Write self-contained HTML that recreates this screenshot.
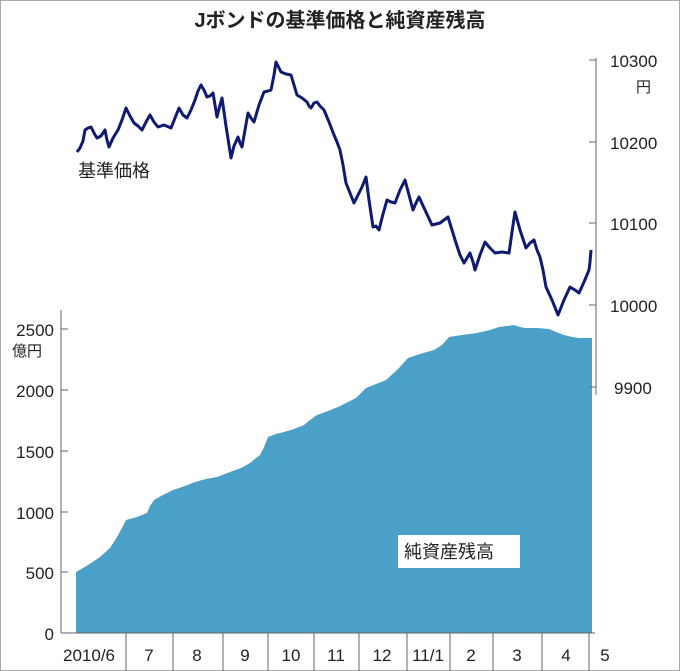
<!DOCTYPE html>
<html><head><meta charset="utf-8"><style>
html,body{margin:0;padding:0;background:#fff}
svg{display:block}
text{font-family:"Liberation Sans","Noto Sans CJK JP",sans-serif;fill:#222}
</style></head><body>
<svg width="680" height="671" viewBox="0 0 680 671" xmlns="http://www.w3.org/2000/svg">
<rect x="0.5" y="0.5" width="679" height="670" fill="#fff" stroke="#aaa"/>
<text x="340" y="27" font-size="20" font-weight="bold" text-anchor="middle">Jボンドの基準価格と純資産残高</text>
<polygon fill="#4aa0c7" points="76,633 76,572 88,565 100,557 110,548 117,537 122,528 126,520 137,517 147,513 150,506 154,500 163,495 173,490 185,486 195,482 206,479 217,477 230,472 241,468 250,463 260,455 264,447 268,437 276,434 284,432 294,429 304,425 310,420 317,415 328,411 338,407 348,402 356,398 362,392 366,388 376,384 386,380 398,369 408,358 420,354 434,350 442,345 449,337 462,335 477,333 490,330 499,327 507,326 514,325 520,327 525,328 537,328 549,329 556,332 564,335 572,337 579,338 592,338 592,633"/>
<polyline fill="none" stroke="#0f1a70" stroke-width="3" stroke-linejoin="round" points="77,152 80,148 83,141 85,130 88,128 91,127 94,133 97,138 101,136 105,130 107,140 109,147 113,138 118,130 122,120 126,108 130,116 134,123 138,126 142,130 146,122 150,115 154,122 158,127 164,125 171,128 175,118 179,108 183,115 187,118 191,110 195,100 198,91 201,85 204,90 207,97 210,96 213,93 215,105 217,117 220,105 222,98 226,126 231,158 234,146 238,137 240,143 242,147 245,130 248,113 251,118 254,122 259,105 264,92 268,91 271,90 274,75 276,62 279,68 281,72 286,74 291,75 294,85 297,95 302,98 307,102 309,106 311,108 314,103 317,102 320,106 324,110 329,122 334,135 337,142 340,150 343,165 346,183 350,193 354,203 358,195 362,187 364,182 366,177 369,200 373,227 376,226 379,230 383,214 387,200 391,202 395,203 400,190 405,180 409,195 413,210 416,203 419,197 425,210 432,225 440,223 448,217 452,230 456,243 460,255 464,263 467,258 470,253 473,262 475,270 480,255 485,242 490,248 495,253 502,252 509,253 512,232 515,212 520,230 526,248 530,243 534,240 537,250 540,257 543,270 546,287 552,300 558,315 564,300 570,287 575,290 579,293 584,282 589,270 590,262 591,250"/>
<g stroke="#666" stroke-width="1" fill="none">
<line x1="61" y1="310" x2="61" y2="633"/>
<line x1="61" y1="633" x2="595" y2="633"/>
<line x1="596" y1="58" x2="596" y2="395"/>
<line x1="61" y1="329" x2="68" y2="329"/><line x1="61" y1="390" x2="68" y2="390"/><line x1="61" y1="451" x2="68" y2="451"/><line x1="61" y1="512" x2="68" y2="512"/><line x1="61" y1="572" x2="68" y2="572"/>
<line x1="589" y1="60" x2="596" y2="60"/><line x1="589" y1="142" x2="596" y2="142"/><line x1="589" y1="223" x2="596" y2="223"/><line x1="589" y1="305" x2="596" y2="305"/><line x1="589" y1="387" x2="596" y2="387"/>
<line x1="126" y1="633" x2="126" y2="671"/><line x1="173" y1="633" x2="173" y2="671"/><line x1="223" y1="633" x2="223" y2="671"/><line x1="268" y1="633" x2="268" y2="671"/><line x1="314" y1="633" x2="314" y2="671"/><line x1="359" y1="633" x2="359" y2="671"/><line x1="407" y1="633" x2="407" y2="671"/><line x1="450" y1="633" x2="450" y2="671"/><line x1="493" y1="633" x2="493" y2="671"/><line x1="542" y1="633" x2="542" y2="671"/><line x1="589" y1="633" x2="589" y2="671"/>
</g>
<g font-size="17" text-anchor="end">
<text x="54" y="336">2500</text><text x="54" y="397">2000</text><text x="54" y="458">1500</text><text x="54" y="519">1000</text><text x="54" y="579">500</text><text x="54" y="640">0</text>
</g>
<text x="12" y="356" font-size="15">億円</text>
<g font-size="17">
<text x="610" y="67">10300</text><text x="610" y="149">10200</text><text x="610" y="230">10100</text><text x="610" y="312">10000</text><text x="614" y="394">9900</text>
</g>
<text x="636" y="92" font-size="15">円</text>
<text x="78" y="177" font-size="18">基準価格</text>
<rect x="398" y="535" width="122" height="33" fill="#fff"/>
<text x="404" y="558" font-size="18">純資産残高</text>
<g font-size="17" text-anchor="middle">
<text x="89" y="661">2010/6</text><text x="149" y="661">7</text><text x="197" y="661">8</text><text x="245" y="661">9</text><text x="291" y="661">10</text><text x="336" y="661">11</text><text x="382" y="661">12</text><text x="428" y="661">11/1</text><text x="471" y="661">2</text><text x="517" y="661">3</text><text x="566" y="661">4</text><text x="605" y="661">5</text>
</g>
</svg>
</body></html>
